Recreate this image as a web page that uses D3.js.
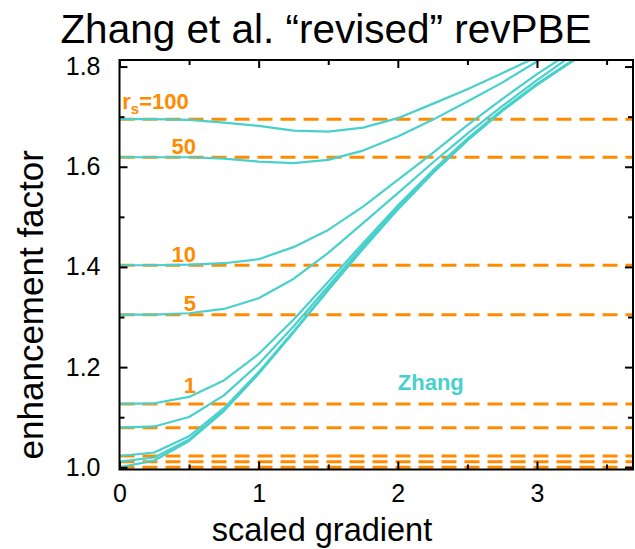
<!DOCTYPE html>
<html>
<head>
<meta charset="utf-8">
<script src="https://cdn.jsdelivr.net/npm/d3@7"></script>
<style>
  body { margin: 0; background: #fff; }
  svg { display: block; }
  text { font-family: "Liberation Sans", Arial, sans-serif; }
</style>
</head>
<body>
<svg id="chart" width="635" height="549"></svg>
<script>
// Scaled gradient s at which the enhancement factor is tabulated
const sGrid = [0, 0.25, 0.5, 0.75, 1, 1.25, 1.5, 1.75, 2, 2.25, 2.5, 2.75, 3, 3.25, 3.5];

// Wigner-Seitz radii of the curves
const rsValues = [100, 50, 10, 5, 1, 0.5, 0.1, 0.05, 0];

// Enhancement factor Fxc(rs, s) for each rs
const fxcRs100 = [1.695, 1.695, 1.6936, 1.6882, 1.6816, 1.672, 1.6702, 1.6782, 1.697, 1.7255, 1.7549, 1.7868, 1.8194, 1.852, 1.884];
const fxcRs50  = [1.619, 1.619, 1.619, 1.6163, 1.6103, 1.6071, 1.6137, 1.6323, 1.6602, 1.6936, 1.7301, 1.768, 1.81, 1.85, 1.89];
const fxcRs10  = [1.4034, 1.4034, 1.4046, 1.4074, 1.4154, 1.4395, 1.4739, 1.5204, 1.5737, 1.6271, 1.683, 1.735, 1.785, 1.83, 1.872];
const fxcRs5   = [1.3047, 1.3047, 1.3075, 1.3161, 1.3375, 1.376, 1.428, 1.4873, 1.5472, 1.608, 1.666, 1.721, 1.773, 1.822, 1.866];
const fxcRs1   = [1.1265, 1.1278, 1.1405, 1.1733, 1.2262, 1.2945, 1.3705, 1.4475, 1.5225, 1.5922, 1.6561, 1.7138, 1.7654, 1.8112, 1.852];
const fxcRs05  = [1.0792, 1.0815, 1.1005, 1.1435, 1.2062, 1.2812, 1.3614, 1.4416, 1.5184, 1.5896, 1.6544, 1.7126, 1.7646, 1.8107, 1.8515];
const fxcRs01  = [1.0226, 1.0295, 1.062, 1.118, 1.19, 1.271, 1.355, 1.4375, 1.5156, 1.5877, 1.6531, 1.7118, 1.764, 1.8103, 1.8514];
const fxcRs005 = [1.0112, 1.0195, 1.0555, 1.114, 1.188, 1.2703, 1.3545, 1.4372, 1.5154, 1.5876, 1.653, 1.7118, 1.764, 1.8103, 1.8513];
const fxcRs0   = [1.0, 1.0136, 1.0526, 1.1123, 1.1866, 1.2689, 1.3536, 1.4365, 1.5149, 1.5872, 1.6527, 1.7114, 1.7637, 1.81, 1.851];

// Uniform-gas limits (s = 0) drawn as dashed reference lines
const uniformLimits = [1.695, 1.619, 1.4034, 1.3047, 1.1264, 1.0791, 1.0226, 1.0112, 1.0];

// Axis ticks
const xTicks = [0, 1, 2, 3];
const xMinorTicks = [0.5, 1.5, 2.5, 3.5];
const yTicks = [1.0, 1.2, 1.4, 1.6, 1.8];
const yMinorTicks = [1.1, 1.3, 1.5, 1.7];

// Text
const titleText = "Zhang et al. \u201crevised\u201d revPBE";
const xLabelText = "scaled gradient";
const yLabelText = "enhancement factor";
const rsLabels = ["100", "50", "10", "5", "1"];
const curveLabel = "Zhang";

const curves = [fxcRs100, fxcRs50, fxcRs10, fxcRs5, fxcRs1, fxcRs05, fxcRs01, fxcRs005, fxcRs0]
  .map((vals, i) => ({ rs: rsValues[i], points: sGrid.map((s, j) => [s, vals[j]]) }));

const CYAN = "#48d1cc";
const ORANGE = "#ff8c00";

const svg = d3.select("#chart");
const plotLeft = 119.5, plotRight = 633, plotTop = 60, plotBottom = 469.5;

const x = d3.scaleLinear().domain([0, 3.69]).range([plotLeft, plotRight]);
const y = d3.scaleLinear().domain([0.9956, 1.8131]).range([plotBottom, plotTop]);

svg.append("defs").append("clipPath").attr("id", "plot-clip")
  .append("rect").attr("x", plotLeft).attr("y", plotTop)
  .attr("width", plotRight - plotLeft).attr("height", plotBottom - plotTop);

const plot = svg.append("g").attr("clip-path", "url(#plot-clip)");

// Dashed uniform-gas limits
plot.selectAll("line.limit").data(uniformLimits).join("line")
  .attr("class", "limit")
  .attr("x1", x(0)).attr("x2", plotRight)
  .attr("y1", d => y(d)).attr("y2", d => y(d))
  .attr("stroke", ORANGE).attr("stroke-width", 3)
  .attr("stroke-dasharray", "15,8");

// Enhancement-factor curves
const line = d3.line().x(d => x(d[0])).y(d => y(d[1]));
plot.selectAll("path.curve").data(curves).join("path")
  .attr("class", "curve")
  .attr("d", d => line(d.points))
  .attr("fill", "none").attr("stroke", CYAN).attr("stroke-width", 2.2)
  .attr("stroke-linejoin", "round");

// Axes with inward ticks on all four sides
function styleAxis(g) {
  g.select(".domain").remove();
  g.selectAll(".tick line").attr("stroke", "#000").attr("stroke-width", 2);
  g.selectAll(".tick text").attr("font-size", 25).attr("fill", "#000")
    .attr("font-family", "Liberation Sans, Arial, sans-serif");
}
svg.append("g").attr("transform", `translate(0,${plotBottom})`)
  .call(d3.axisBottom(x).tickValues(xTicks).tickFormat(d3.format("d"))
    .tickSizeInner(-8).tickSizeOuter(0).tickPadding(15))
  .call(styleAxis);
svg.append("g").attr("transform", `translate(0,${plotBottom})`)
  .call(d3.axisBottom(x).tickValues(xMinorTicks).tickFormat("").tickSizeInner(-5).tickSizeOuter(0))
  .call(styleAxis);
svg.append("g").attr("transform", `translate(0,${plotTop})`)
  .call(d3.axisTop(x).tickValues(xTicks).tickFormat("").tickSizeInner(-8).tickSizeOuter(0))
  .call(styleAxis);
svg.append("g").attr("transform", `translate(0,${plotTop})`)
  .call(d3.axisTop(x).tickValues(xMinorTicks).tickFormat("").tickSizeInner(-5).tickSizeOuter(0))
  .call(styleAxis);
svg.append("g").attr("transform", `translate(${plotLeft},0)`)
  .call(d3.axisLeft(y).tickValues(yTicks).tickFormat(d3.format(".1f"))
    .tickSizeInner(-8).tickSizeOuter(0).tickPadding(19))
  .call(styleAxis);
svg.append("g").attr("transform", `translate(${plotLeft},0)`)
  .call(d3.axisLeft(y).tickValues(yMinorTicks).tickFormat("").tickSizeInner(-5).tickSizeOuter(0))
  .call(styleAxis);
svg.append("g").attr("transform", `translate(${plotRight},0)`)
  .call(d3.axisRight(y).tickValues(yTicks).tickFormat("").tickSizeInner(-8).tickSizeOuter(0))
  .call(styleAxis);
svg.append("g").attr("transform", `translate(${plotRight},0)`)
  .call(d3.axisRight(y).tickValues(yMinorTicks).tickFormat("").tickSizeInner(-5).tickSizeOuter(0))
  .call(styleAxis);

// Frame
svg.append("rect").attr("x", plotLeft).attr("y", plotTop)
  .attr("width", plotRight - plotLeft).attr("height", plotBottom - plotTop)
  .attr("fill", "none").attr("stroke", "#000").attr("stroke-width", 2);

// Title and axis titles
svg.append("text").attr("x", 326).attr("y", 43).attr("text-anchor", "middle")
  .attr("font-size", 40.5).text(titleText);
svg.append("text").attr("x", 322).attr("y", 541).attr("text-anchor", "middle")
  .attr("font-size", 32.5).text(xLabelText);
svg.append("text").attr("transform", `translate(43,${(plotTop + plotBottom) / 2 + 40}) rotate(-90)`)
  .attr("text-anchor", "middle").attr("font-size", 35).text(yLabelText);

// rs labels above their dashed limits
const labelG = svg.append("g").attr("fill", ORANGE).attr("font-weight", "bold").attr("font-size", 22);
const rsLabel = labelG.append("text").attr("x", x(0.02)).attr("y", y(uniformLimits[0]) - 10);
rsLabel.append("tspan").text("r");
rsLabel.append("tspan").attr("font-size", 15).attr("dy", 5).text("s");
rsLabel.append("tspan").attr("dy", -5).text("=" + rsLabels[0]);
const labelOffsets = [null, 3.5, 3.5, 4, 11];
rsLabels.slice(1).forEach((t, i) => {
  labelG.append("text").attr("x", x(0.55)).attr("y", y(uniformLimits[i + 1]) - labelOffsets[i + 1])
    .attr("text-anchor", "end").text(t);
});

svg.append("text").attr("x", x(2.0)).attr("y", y(1.154))
  .attr("fill", CYAN).attr("font-weight", "bold").attr("font-size", 22).text(curveLabel);
</script>
</body>
</html>
